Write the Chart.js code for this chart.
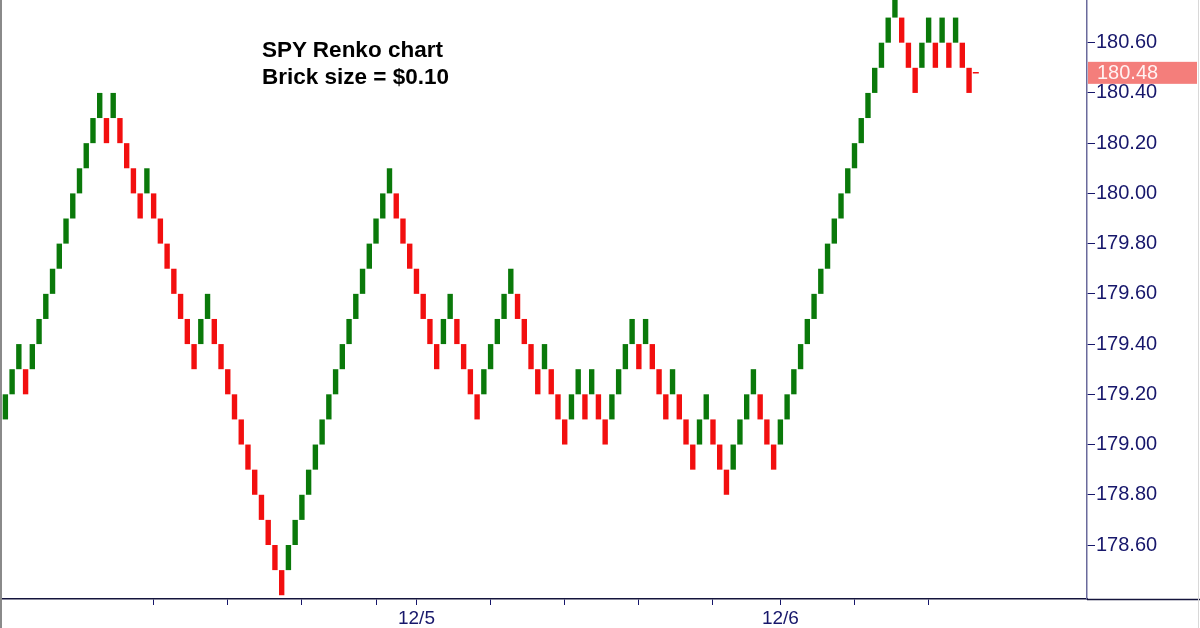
<!DOCTYPE html>
<html>
<head>
<meta charset="utf-8">
<script src="https://cdn.jsdelivr.net/npm/chart.js@4/dist/chart.umd.min.js"></script>
<style>
  html, body { margin: 0; padding: 0; background: #fff; }
  #wrap { position: relative; width: 1200px; height: 628px; }
  #title {
    position: absolute; left: 262px; top: 36px;
    font: bold 22.5px "Liberation Sans", Arial, sans-serif;
    line-height: 27px; color: #000;
  }
</style>
</head>
<body>
<div id="wrap">
  <canvas id="renko" width="1200" height="628"></canvas>
  <div id="title">SPY Renko chart<br>Brick size = $0.10</div>
</div>
<script>
// renko bricks, bottom of each brick
const brickSize = 0.1;
const brickLows = [
  179.1, 179.2, 179.3, 179.2, 179.3, 179.4, 179.5, 179.6, 179.7, 179.8, 179.9, 180.0, 180.1, 180.2, 180.3,
  180.2, 180.3, 180.2, 180.1, 180.0, 179.9, 180.0, 179.9, 179.8, 179.7, 179.6, 179.5, 179.4, 179.3, 179.4,
  179.5, 179.4, 179.3, 179.2, 179.1, 179.0, 178.9, 178.8, 178.7, 178.6, 178.5, 178.4, 178.5, 178.6, 178.7,
  178.8, 178.9, 179.0, 179.1, 179.2, 179.3, 179.4, 179.5, 179.6, 179.7, 179.8, 179.9, 180.0, 179.9, 179.8,
  179.7, 179.6, 179.5, 179.4, 179.3, 179.4, 179.5, 179.4, 179.3, 179.2, 179.1, 179.2, 179.3, 179.4, 179.5,
  179.6, 179.5, 179.4, 179.3, 179.2, 179.3, 179.2, 179.1, 179.0, 179.1, 179.2, 179.1, 179.2, 179.1, 179.0,
  179.1, 179.2, 179.3, 179.4, 179.3, 179.4, 179.3, 179.2, 179.1, 179.2, 179.1, 179.0, 178.9, 179.0, 179.1,
  179.0, 178.9, 178.8, 178.9, 179.0, 179.1, 179.2, 179.1, 179.0, 178.9, 179.0, 179.1, 179.2, 179.3, 179.4,
  179.5, 179.6, 179.7, 179.8, 179.9, 180.0, 180.1, 180.2, 180.3, 180.4, 180.5, 180.6, 180.7, 180.6, 180.5,
  180.4, 180.5, 180.6, 180.5, 180.6, 180.5, 180.6, 180.5, 180.4
];
// 1 = up brick (green), 0 = down brick (red)
const brickUp = [
  1,1,1,0,1,1,1,1,1,1,1,1,1,1,1,
  0,1,0,0,0,0,1,0,0,0,0,0,0,0,1,
  1,0,0,0,0,0,0,0,0,0,0,0,1,1,1,
  1,1,1,1,1,1,1,1,1,1,1,1,1,0,0,
  0,0,0,0,0,1,1,0,0,0,0,1,1,1,1,
  1,0,0,0,0,1,0,0,0,1,1,0,1,0,0,
  1,1,1,1,0,1,0,0,0,1,0,0,0,1,1,
  0,0,0,1,1,1,1,0,0,0,1,1,1,1,1,
  1,1,1,1,1,1,1,1,1,1,1,1,1,0,0,
  0,1,1,0,1,0,1,0,0
];
const lastPrice = 180.48;

const slotCount = 161;              // brick slots across the plot, incl. empty space on the right
const dateLabels = ['12/5', '12/6'];
const dateLabelIdx = [61, 115];
const minorTickIdx = [22, 33, 44, 55, 72, 83, 94, 105, 126, 137];
const yTickValues = [178.6, 178.8, 179.0, 179.2, 179.4, 179.6, 179.8, 180.0, 180.2, 180.4, 180.6];
const yMin = 178.385, yMax = 180.77;

const labels = [];
for (let i = 0; i < slotCount; i++) {
  const k = dateLabelIdx.indexOf(i);
  labels.push(k >= 0 ? dateLabels[k] : '');
}
const tickIdx = minorTickIdx.concat(dateLabelIdx);

const GREEN = '#0a790a';
const RED = '#f20f0f';
const NAVY = '#17176b';
const FONT = '"Liberation Sans", Arial, sans-serif';

const bricks = brickLows.map(lo => [lo, lo + brickSize]);
const brickColors = brickUp.map(u => u ? GREEN : RED);

const priceMarker = [];
priceMarker[brickLows.length] = lastPrice;

const frame = {
  id: 'frame',
  afterDraw(chart) {
    const ctx = chart.ctx;
    const area = chart.chartArea;
    const y = chart.scales.y;
    ctx.save();
    // x axis line runs under the price scale to the edge
    ctx.strokeStyle = '#14143c';
    ctx.lineWidth = 1.5;
    ctx.beginPath();
    ctx.moveTo(area.right, area.bottom + 0.5);
    ctx.lineTo(chart.width, area.bottom + 0.5);
    ctx.stroke();
    // outer frame
    ctx.strokeStyle = '#8a8a8a';
    ctx.lineWidth = 2;
    ctx.beginPath();
    ctx.moveTo(1, 0);
    ctx.lineTo(1, chart.height);
    ctx.stroke();
    ctx.strokeStyle = '#d8d8d8';
    ctx.lineWidth = 1;
    ctx.beginPath();
    ctx.moveTo(chart.width - 1.5, 0);
    ctx.lineTo(chart.width - 1.5, chart.height);
    ctx.stroke();
    // last price box
    const py = y.getPixelForValue(lastPrice);
    ctx.fillStyle = '#f47e7b';
    ctx.fillRect(area.right + 1, py - 11, chart.width - area.right - 4, 22);
    ctx.fillStyle = '#fff2f2';
    ctx.font = '20px ' + FONT;
    ctx.textBaseline = 'middle';
    ctx.fillText(lastPrice.toFixed(2), area.right + 10, py + 1);
    ctx.restore();
  }
};

new Chart(document.getElementById('renko'), {
  type: 'bar',
  data: {
    labels: labels,
    datasets: [{
      data: bricks,
      backgroundColor: brickColors,
      borderWidth: 0,
      barPercentage: 0.8,
      categoryPercentage: 1.0
    }, {
      type: 'line',
      data: priceMarker,
      showLine: false,
      pointStyle: 'line',
      pointRadius: 3,
      borderColor: RED,
      borderWidth: 1.5
    }]
  },
  options: {
    responsive: false,
    animation: false,
    devicePixelRatio: 1,
    layout: { autoPadding: false, padding: { left: 2, top: 0, right: 0, bottom: 0 } },
    plugins: {
      legend: { display: false },
      tooltip: { enabled: false },
      title: { display: false }
    },
    scales: {
      x: {
        offset: true,
        grid: {
          offset: false,
          drawOnChartArea: false,
          drawTicks: true,
          tickLength: 6,
          lineWidth: 1,
          color: ctx => tickIdx.includes(ctx.index) ? NAVY : 'transparent'
        },
        border: { display: true, color: '#14143c', width: 1.5 },
        ticks: {
          autoSkip: false,
          maxRotation: 0,
          padding: 2,
          color: NAVY,
          font: { size: 19, family: FONT },
          callback: (v, i) => labels[i]
        },
        afterFit: s => {
          s.height = 29;
          s.paddingLeft = 0;
          s.paddingRight = 0;
        }
      },
      y: {
        position: 'right',
        min: yMin,
        max: yMax,
        afterBuildTicks: s => { s.ticks = yTickValues.map(v => ({ value: v })); },
        grid: {
          drawOnChartArea: false,
          drawTicks: true,
          tickLength: 8,
          color: NAVY
        },
        border: { display: true, color: '#6a6a9c', width: 1.5 },
        ticks: {
          padding: 1,
          color: NAVY,
          font: { size: 20, family: FONT },
          callback: v => Number(v).toFixed(2)
        },
        afterFit: s => {
          s.width = 113;
          s.paddingTop = 0;
          s.paddingBottom = 0;
        }
      }
    }
  },
  plugins: [frame]
});
</script>
</body>
</html>
